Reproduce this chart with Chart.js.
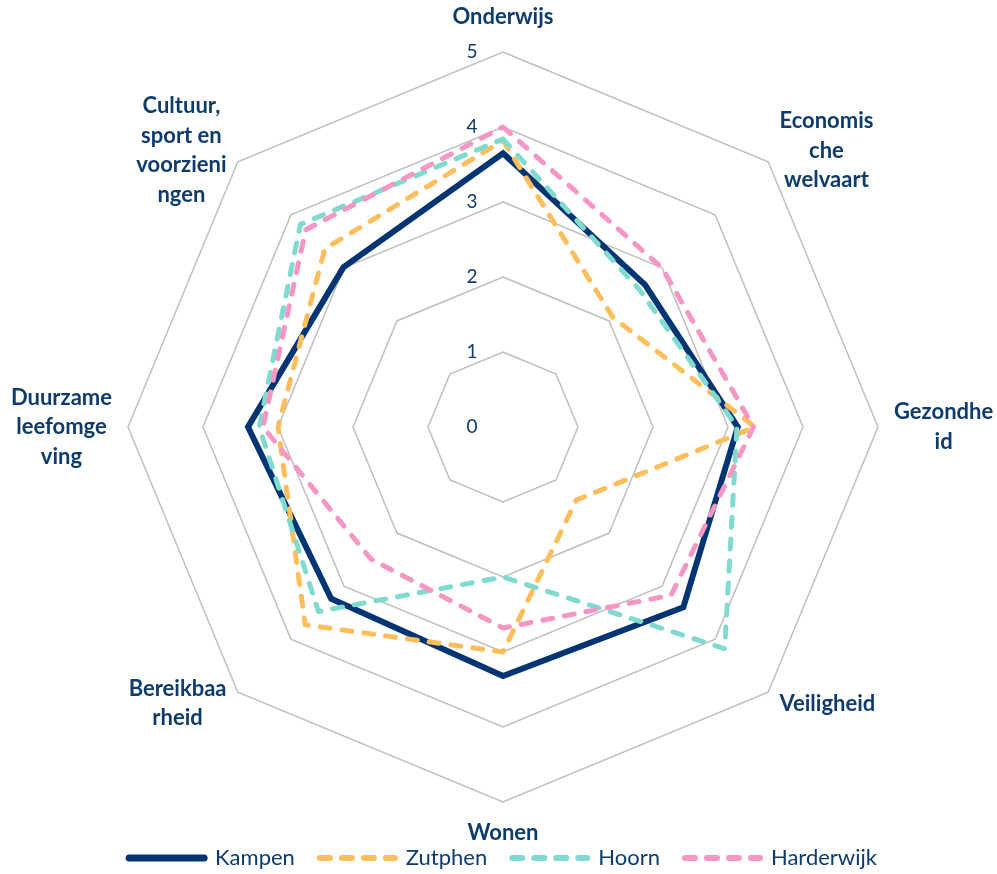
<!DOCTYPE html>
<html>
<head>
<meta charset="utf-8">
<script src="https://cdn.jsdelivr.net/npm/chart.js@4/dist/chart.umd.min.js"></script>
<style>
html,body{margin:0;padding:0;background:#ffffff;}
#c{display:block;}
</style>
</head>
<body>
<canvas id="c" width="997" height="874"></canvas>
<script>
// ---- data ----
const categories = [
  ['Onderwijs'],
  ['Economis', 'che', 'welvaart'],
  ['Gezondhe', 'id'],
  ['Veiligheid'],
  ['Wonen'],
  ['Bereikbaa', 'rheid'],
  ['Duurzame', 'leefomge', 'ving'],
  ['Cultuur,', 'sport en', 'voorzieni', 'ngen']
];
const seriesNames = ['Kampen', 'Zutphen', 'Hoorn', 'Harderwijk'];
const kampen     = [3.65, 2.68, 3.13, 3.40, 3.32, 3.24, 3.40, 3.01];
const zutphen    = [3.82, 2.07, 3.36, 1.38, 3.00, 3.73, 3.00, 3.36];
const hoorn      = [3.84, 2.58, 3.12, 4.18, 2.00, 3.48, 3.25, 3.82];
const harderwijk = [4.00, 3.00, 3.34, 3.17, 2.68, 2.49, 3.20, 3.72];
const tickValues = [0, 1, 2, 3, 4, 5];

// ---- styles ----
const TEXT = '#0D3B6C';
const FONT = 'Lato';
const LINE_H = 29.5;

const labelPlugin = {
  id: 'radarTexts',
  beforeDatasetsDraw(chart) {
    const s = chart.scales.r, ctx = chart.ctx;
    ctx.save();
    ctx.font = '19px ' + FONT;
    ctx.fillStyle = TEXT;
    ctx.textAlign = 'center';
    ctx.textBaseline = 'middle';
    tickValues.forEach(v => {
      const d = s.getDistanceFromCenterForValue(v);
      ctx.fillText(String(v), s.xCenter - 31, s.yCenter - d);
    });
    ctx.restore();
  },
  afterDraw(chart) {
    const s = chart.scales.r, ctx = chart.ctx;
    ctx.save();
    ctx.font = 'bold 22px ' + FONT;
    ctx.fillStyle = TEXT;
    ctx.textAlign = 'center';
    ctx.textBaseline = 'middle';
    categories.forEach((lines, i) => {
      let deg = (s.getIndexAngle(i) * 180 / Math.PI) % 360;
      const isTop = Math.abs(deg) < 1 || Math.abs(deg - 360) < 1;
      const isBottom = Math.abs(deg - 180) < 1;
      const p = s.getPointPosition(i, s.drawingArea + (isTop ? 20 : 16));
      const w = Math.max(...lines.map(l => ctx.measureText(l).width));
      const h = lines.length * LINE_H;
      let cx, y0;
      if (isTop) { cx = p.x; y0 = p.y - h; }
      else if (isBottom) { cx = p.x; y0 = p.y; }
      else if (deg < 180) { cx = p.x + w / 2; y0 = p.y - h / 2; }
      else { cx = p.x - w / 2; y0 = p.y - h / 2; }
      lines.forEach((l, k) => ctx.fillText(l, cx, y0 + LINE_H * (k + 0.5)));
    });
    ctx.restore();
  }
};

const dashed = [10, 12];
new Chart(document.getElementById('c'), {
  type: 'radar',
  data: {
    labels: categories,
    datasets: [
      { label: seriesNames[0], data: kampen, borderColor: '#003473', backgroundColor: 'transparent',
        borderWidth: 6, borderCapStyle: 'round', borderJoinStyle: 'miter', order: 4 },
      { label: seriesNames[1], data: zutphen, borderColor: '#FFBE5C', backgroundColor: 'transparent',
        borderWidth: 5, borderDash: dashed, borderCapStyle: 'round', borderJoinStyle: 'round', order: 3 },
      { label: seriesNames[2], data: hoorn, borderColor: '#80DAD0', backgroundColor: 'transparent',
        borderWidth: 5, borderDash: dashed, borderCapStyle: 'round', borderJoinStyle: 'round', order: 2 },
      { label: seriesNames[3], data: harderwijk, borderColor: '#F596C4', backgroundColor: 'transparent',
        borderWidth: 5, borderDash: dashed, borderCapStyle: 'round', borderJoinStyle: 'round', order: 1 }
    ]
  },
  options: {
    responsive: false,
    devicePixelRatio: 1,
    animation: false,
    layout: { padding: { top: 52, left: 10, right: 1, bottom: -5 } },
    elements: { point: { radius: 0, hoverRadius: 0 }, line: { tension: 0, fill: false } },
    scales: {
      r: {
        min: 0, max: 5,
        startAngle: 0,
        ticks: { stepSize: 1, display: false },
        grid: { circular: false, color: '#BFBFBF', lineWidth: 1.5 },
        angleLines: { display: false },
        pointLabels: { display: false }
      }
    },
    plugins: {
      tooltip: { enabled: false },
      legend: {
        position: 'bottom',
        title: { display: true, text: '', font: { size: 1, lineHeight: 1 }, padding: { top: 19, bottom: 0 } },
        labels: {
          usePointStyle: true,
          pointStyle: 'line',
          pointStyleWidth: 75,
          padding: 25,
          color: TEXT,
          font: { family: FONT, size: 22 },
          generateLabels(chart) {
            const items = Chart.defaults.plugins.legend.labels.generateLabels(chart);
            items.forEach(it => {
              const ds = chart.data.datasets[it.datasetIndex];
              it.lineDash = ds.borderDash || [];
              it.lineCap = 'round';
              it.lineWidth = ds.borderWidth + 1;
              it.strokeStyle = ds.borderColor;
            });
            return items;
          },
          sort: (a, b) => a.datasetIndex - b.datasetIndex
        }
      }
    }
  },
  plugins: [labelPlugin]
});
</script>
</body>
</html>
